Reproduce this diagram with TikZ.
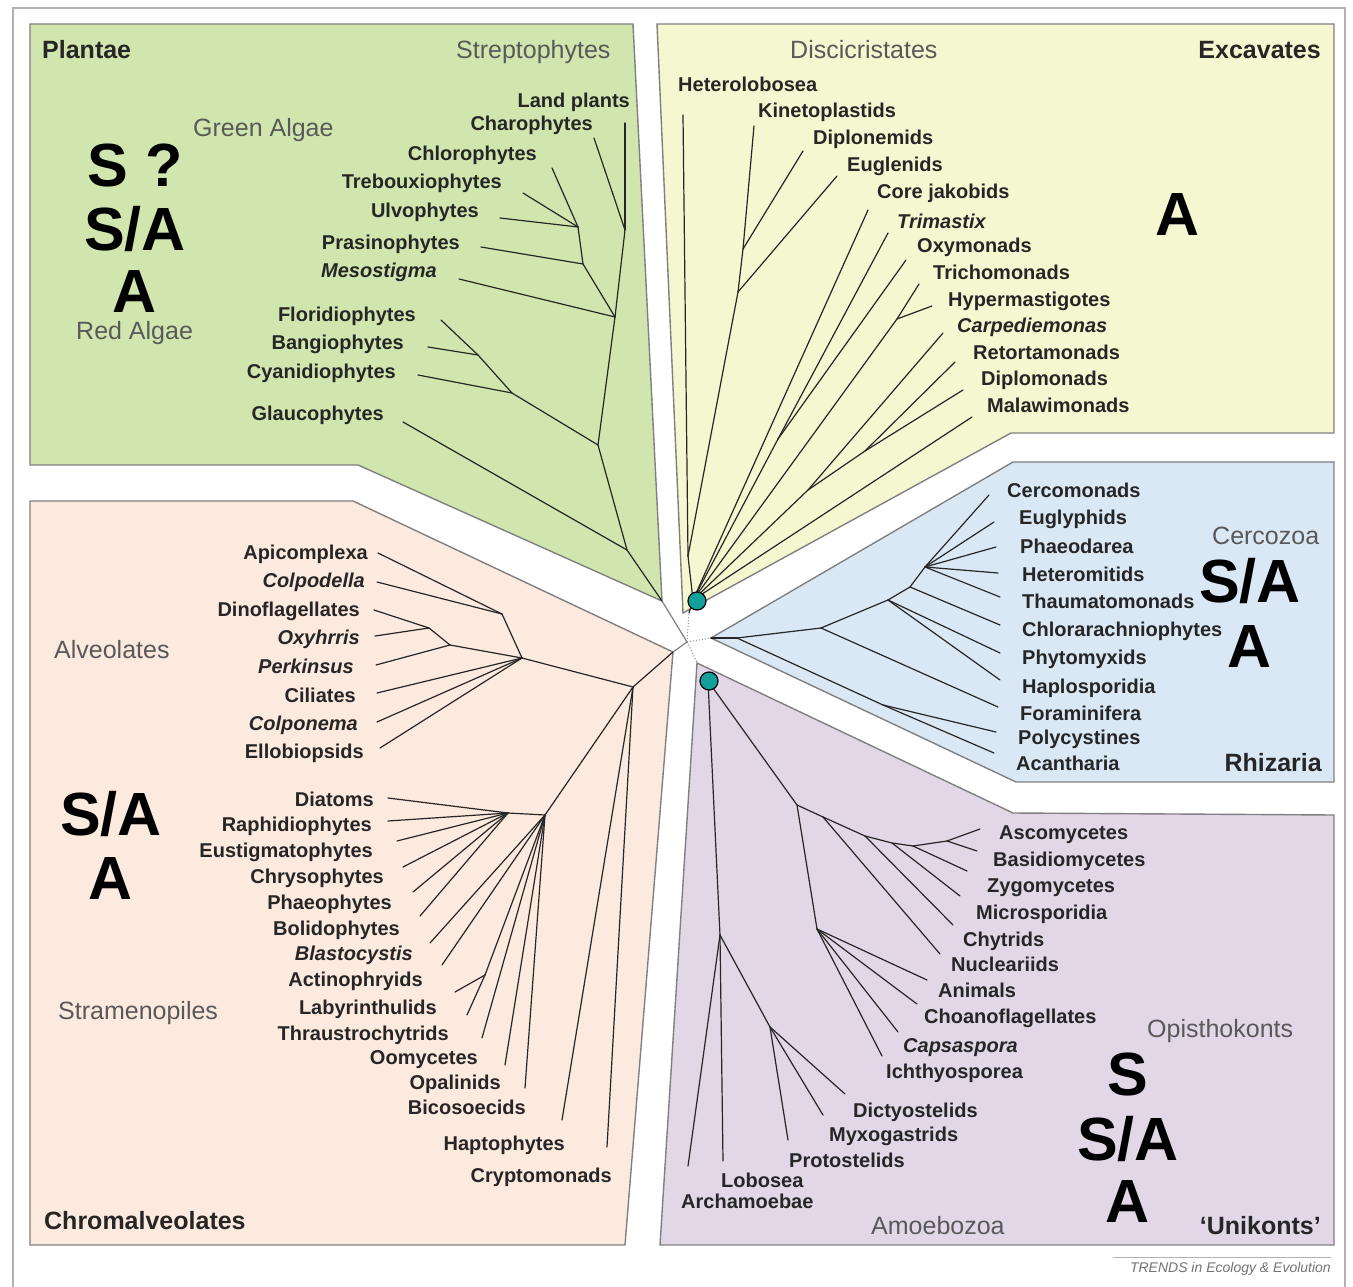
\documentclass[tikz,border=0pt]{standalone}
\usepackage{fontspec}
\setmainfont{Liberation Sans}
\definecolor{cgreen}{RGB}{208,230,174}
\definecolor{cyellow}{RGB}{245,247,208}
\definecolor{cblue}{RGB}{218,232,246}
\definecolor{corange}{RGB}{253,234,223}
\definecolor{cpurple}{RGB}{226,215,231}
\definecolor{cteal}{RGB}{18,160,155}
\begin{document}
\begin{tikzpicture}[x=1pt,y=-1pt,
  box/.style={draw=black!50, line width=1.4pt, line join=miter},
  br/.style={draw=black!85, line width=1.2pt, line cap=round},
  tx/.style={font=\fontsize{20}{22}\selectfont\bfseries, text=black!85, inner sep=0pt, text height=14pt, text depth=0pt},
  grp/.style={font=\fontsize{25}{27}\selectfont, text=black!65, inner sep=0pt, text height=18pt, text depth=0pt},
  sup/.style={font=\fontsize{25}{27}\selectfont\bfseries, text=black!85, inner sep=0pt, text height=18pt, text depth=0pt},
  big/.style={font=\fontsize{61}{61}\selectfont\bfseries, text=black, inner sep=0pt, text height=44pt, text depth=0pt},
  dotl/.style={draw=black!45, line width=1pt, dotted},
  tdot/.style={circle, fill=cteal, draw=black, line width=1.2pt, minimum size=18pt, inner sep=0pt}]
\useasboundingbox (0,0) rectangle (1353,1287);
\fill[white] (0,0) rectangle (1353,1287);
% outer frame
\draw[black!30, line width=1.3pt] (13,1287) -- (13,8) -- (1345,8) -- (1345,1287);

% panels
\path[box, fill=cgreen]  (30,24) -- (633,24) -- (662,601) -- (358,465) -- (30,465) -- cycle;
\path[box, fill=cyellow] (657,24) -- (1334,24) -- (1334,433) -- (1011,433) -- (683,613) -- cycle;
\path[box, fill=cblue]   (711,638) -- (1013,462) -- (1334,462) -- (1334,782) -- (1016,782) -- cycle;
\path[box, fill=cpurple] (697,663) -- (1013,813) -- (1334,815) -- (1334,1245) -- (660,1245) -- cycle;
\path[box, fill=corange] (30,501) -- (353,501) -- (673,652) -- (625,1245) -- (30,1245) -- cycle;

% centre
\coordinate (ctr) at (687,642);
\coordinate (gtip) at (662,601);
\coordinate (otip) at (673,652);
\coordinate (ytip) at (689,613);
\coordinate (btip) at (711,638);
\coordinate (ptip) at (697,662);
\draw[draw=black!50, line width=1.2pt] (gtip) -- (ctr) -- (otip);
\draw[dotl] (ctr) -- (ytip);
\draw[dotl] (ctr) -- (btip);
\draw[dotl] (ctr) -- (ptip);

% ---------- coordinates of tree nodes ----------
\foreach \n/\x/\y in {
  g0/662/601, g1/627/550, g2/598/445, g3/615/317, g4/625/230, g5/583/264, g6/578/227, r1/512/393, r2/478/355,
  lLand/625/123, lChar/594/138, lChlo/552/168, lTreb/523/193, lUlvo/500/218, lPras/481/247, lMeso/459/279,
  lFlor/441/320, lBang/428/347, lCyan/418/375, lGlau/403/422,
  yr/693/600, d0/688/556, k1/743/249, k2/738/292, pp/778/439, t1/897/319, t2/808/490, ff/865/451,
  lHet/683/115, lKin/754/126, lDipn/803/151, lEug/837/176, lCore/868/210, lTrim/888/233, lOxy/906/260,
  lTric/919/284, lHyp/932/306, lCarp/943/333, lRet/955/362, lDipm/963/390, lMal/972/417,
  rr/711/638, rj/737/638, n1/821/628, n2/888/600, n3/910/587, n4/925/567, rad/883/705,
  lCerc/989/495, lEugl/994/522, lPhae/996/547, lHetm/998/573, lThau/1000/597, lChlr/1000/625,
  lPhyt/1000/653, lHapl/1000/680, lFora/998/707, lPoly/996/732, lAcan/994/753,
  pr/708/681, a1/720/935, a2/770/1027, o1/797/805, o2/817/929, fu1/823/817, fu2/865/836, fu3/892/843, fu4/913/846, fu5/947/841,
  lArch/688/1166, lLobo/723/1161, lDict/845/1094, lMyxo/823/1115, lProt/788/1140,
  lAnim/927/980, lChoa/917/1004, lCaps/898/1032, lIcht/882/1056,
  lAsco/980/829, lBasi/977/851, lZygo/967/871, lMicr/960/896, lChyt/953/925, lNucl/940/954,
  c1/633/687, a0/522/658, ap/502/614, dn/450/645, dx/429/628, s0/545/815, s1/508/813, lab/485/975,
  lApic/378/553, lColpd/377/582, lDino/374/610, lOxyh/375/636, lPerk/376/665, lCili/377/693, lColpn/377/722, lEllo/380/748,
  lDiat/388/798, lRaph/388/821, lEust/397/841, lChry/403/867, lPhaeo/413/892, lBoli/420/916, lBlas/430/943,
  lActi/442/965, lLaby/455/992, lThra/467/1015, lOomy/482/1038, lOpal/505/1065, lBico/525/1088, lHapt/562/1120, lCryp/607/1147}
  \coordinate (\n) at (\x,\y);

% ---------- branches ----------
\foreach \a/\b in {
  g0/g1, g1/g2, g1/lGlau, g2/g3, g2/r1, g3/g4, g3/g5, g3/lMeso, g4/lLand, g4/lChar, g5/g6, g5/lPras,
  g6/lChlo, g6/lTreb, g6/lUlvo, r1/r2, r1/lCyan, r2/lFlor, r2/lBang,
  ytip/yr, yr/d0, d0/lHet, d0/k2, k2/k1, k2/lEug, k1/lKin, k1/lDipn, yr/lCore, yr/pp, pp/lTrim, pp/lOxy,
  yr/t1, t1/lTric, t1/lHyp, yr/t2, t2/lCarp, t2/ff, ff/lRet, ff/lDipm, yr/lMal,
  rr/rj, rj/n1, rj/rad, n1/n2, n1/lFora, n2/n3, n2/lPhyt, n2/lHapl, n3/n4, n3/lChlr,
  n4/lCerc, n4/lEugl, n4/lPhae, n4/lHetm, n4/lThau, rad/lPoly, rad/lAcan,
  pr/a1, a1/lArch, a1/lLobo, a1/a2, a2/lDict, a2/lMyxo, a2/lProt, pr/o1, o1/o2, o2/lAnim, o2/lChoa, o2/lCaps, o2/lIcht,
  o1/fu1, fu1/lNucl, fu1/fu2, fu2/lChyt, fu2/fu3, fu3/lMicr, fu3/fu4, fu4/lZygo, fu4/fu5, fu5/lAsco, fu5/lBasi,
  otip/c1, c1/a0, a0/ap, ap/lApic, ap/lColpd, a0/dn, dn/dx, dx/lDino, dx/lOxyh, dn/lPerk, a0/lCili, a0/lColpn, a0/lEllo,
  c1/s0, s0/s1, s1/lDiat, s1/lRaph, s1/lEust, s1/lChry, s1/lPhaeo, s1/lBoli,
  s0/lBlas, s0/lActi, s0/lab, lab/lLaby, lab/lThra, s0/lOomy, s0/lOpal, s0/lBico, c1/lHapt, c1/lCryp}
  \draw[br] (\a) -- (\b);

% teal dots
\node[tdot] (dotA) at (697,601) {};
\node[tdot] (dotB) at (709,681) {};

% ---------- taxa labels (right aligned) ----------
\foreach \n/\x/\y/\t in {
  tLand/630/101/{Land plants}, tChar/593/124/{Charophytes}, tChlo/537/154/{Chlorophytes},
  tTreb/502/182/{Trebouxiophytes}, tUlvo/479/211/{Ulvophytes}, tPras/460/242/{Prasinophytes},
  tMeso/437/270/{\itshape Mesostigma}, tFlor/416/314/{Floridiophytes}, tBang/404/342/{Bangiophytes},
  tCyan/396/371/{Cyanidiophytes}, tGlau/384/413/{Glaucophytes},
  tApic/368/552/{Apicomplexa}, tColpd/365/580/{\itshape Colpodella}, tDino/360/609/{Dinoflagellates},
  tOxyh/360/637/{\itshape Oxyhrris}, tPerk/354/666/{\itshape Perkinsus}, tCili/356/695/{Ciliates},
  tColpn/358/723/{\itshape Colponema}, tEllo/364/751/{Ellobiopsids},
  tDiat/374/799/{Diatoms}, tRaph/372/824/{Raphidiophytes}, tEust/373/850/{Eustigmatophytes},
  tChry/384/876/{Chrysophytes}, tPhaeo/392/902/{Phaeophytes}, tBoli/400/928/{Bolidophytes},
  tBlas/413/953/{\itshape Blastocystis}, tActi/423/979/{Actinophryids}, tLaby/437/1007/{Labyrinthulids},
  tThra/449/1033/{Thraustrochytrids}, tOomy/478/1057/{Oomycetes}, tOpal/501/1082/{Opalinids},
  tBico/526/1107/{Bicosoecids}, tHapt/565/1143/{Haptophytes}, tCryp/612/1175/{Cryptomonads}}
  \node[tx, anchor=east] (\n) at (\x,\y) {\t};

% ---------- taxa labels (left aligned) ----------
\foreach \n/\x/\y/\t in {
  tHet/678/85/{Heterolobosea}, tKin/758/111/{Kinetoplastids}, tDipn/813/138/{Diplonemids},
  tEug/847/165/{Euglenids}, tCore/877/191/{Core jakobids}, tTrim/897/222/{\itshape Trimastix},
  tOxy/917/245/{Oxymonads}, tTric/933/272/{Trichomonads}, tHyp/948/299/{Hypermastigotes},
  tCarp/957/325/{\itshape Carpediemonas}, tRet/973/352/{Retortamonads}, tDipm/981/378/{Diplomonads},
  tMal/987/405/{Malawimonads},
  tCerc/1007/490/{Cercomonads}, tEugl/1019/517/{Euglyphids}, tPhae/1020/546/{Phaeodarea},
  tHetm/1022/574/{Heteromitids}, tThau/1022/601/{Thaumatomonads}, tChlr/1022/629/{Chlorarachniophytes},
  tPhyt/1022/657/{Phytomyxids}, tHapl/1022/686/{Haplosporidia}, tFora/1020/713/{Foraminifera},
  tPoly/1018/737/{Polycystines}, tAcan/1016/763/{Acantharia},
  tAsco/999/832/{Ascomycetes}, tBasi/993/859/{Basidiomycetes}, tZygo/987/885/{Zygomycetes},
  tMicr/976/912/{Microsporidia}, tChyt/963/939/{Chytrids}, tNucl/951/964/{Nucleariids},
  tAnim/938/990/{Animals}, tChoa/924/1016/{Choanoflagellates}, tCaps/903/1045/{\itshape Capsaspora},
  tIcht/886/1071/{Ichthyosporea}, tDict/853/1110/{Dictyostelids}, tMyxo/829/1134/{Myxogastrids},
  tProt/789/1160/{Protostelids}, tLobo/721/1180/{Lobosea}, tArch/681/1201/{Archamoebae}}
  \node[tx, anchor=west] (\n) at (\x,\y) {\t};

% ---------- group labels ----------
\node[grp, anchor=west] (gStrep) at (456,50) {Streptophytes};
\node[grp, anchor=west] (gGreen) at (193,128) {Green Algae};
\node[grp, anchor=west] (gRed) at (76,330) {Red Algae};
\node[grp, anchor=west] (gDisc) at (790,50) {Discicristates};
\node[grp, anchor=west] (gCerc) at (1212,535) {Cercozoa};
\node[grp, anchor=west] (gAlve) at (54,649) {Alveolates};
\node[grp, anchor=west] (gStra) at (58,1010) {Stramenopiles};
\node[grp, anchor=west] (gOpis) at (1147,1028) {Opisthokonts};
\node[grp, anchor=west] (gAmoe) at (871,1225) {Amoebozoa};

\node[sup, anchor=west] (sPlan) at (42,50) {Plantae};
\node[sup, anchor=east] (sExca) at (1321,50) {Excavates};
\node[sup, anchor=east] (sRhiz) at (1322,762) {Rhizaria};
\node[sup, anchor=west] (sChro) at (44,1220) {Chromalveolates};
\node[sup, anchor=east] (sUnik) at (1321,1225) {‘Unikonts’};

% ---------- big letters ----------
\node[big] (bP1) at (135,164) {S ?};
\node[big] (bP2) at (135,228) {S/A};
\node[big] (bP3) at (135,290) {A};
\node[big] (bE1) at (1178,213) {A};
\node[big] (bR1) at (1250,580) {S/A};
\node[big] (bR2) at (1250,645) {A};
\node[big] (bC1) at (111,813) {S/A};
\node[big] (bC2) at (111,877) {A};
\node[big] (bU1) at (1128,1073) {S};
\node[big] (bU2) at (1128,1138) {S/A};
\node[big] (bU3) at (1128,1200) {A};

% credit
\coordinate (crA) at (1113,1257);
\coordinate (crB) at (1331,1257);
\draw[black!30, line width=1pt] (crA) -- (crB);
\node[font=\fontsize{14}{15}\selectfont\itshape, text=black!55, inner sep=0pt, anchor=east] (credit) at (1331,1269) {TRENDS in Ecology \& Evolution};
\end{tikzpicture}
\end{document}
